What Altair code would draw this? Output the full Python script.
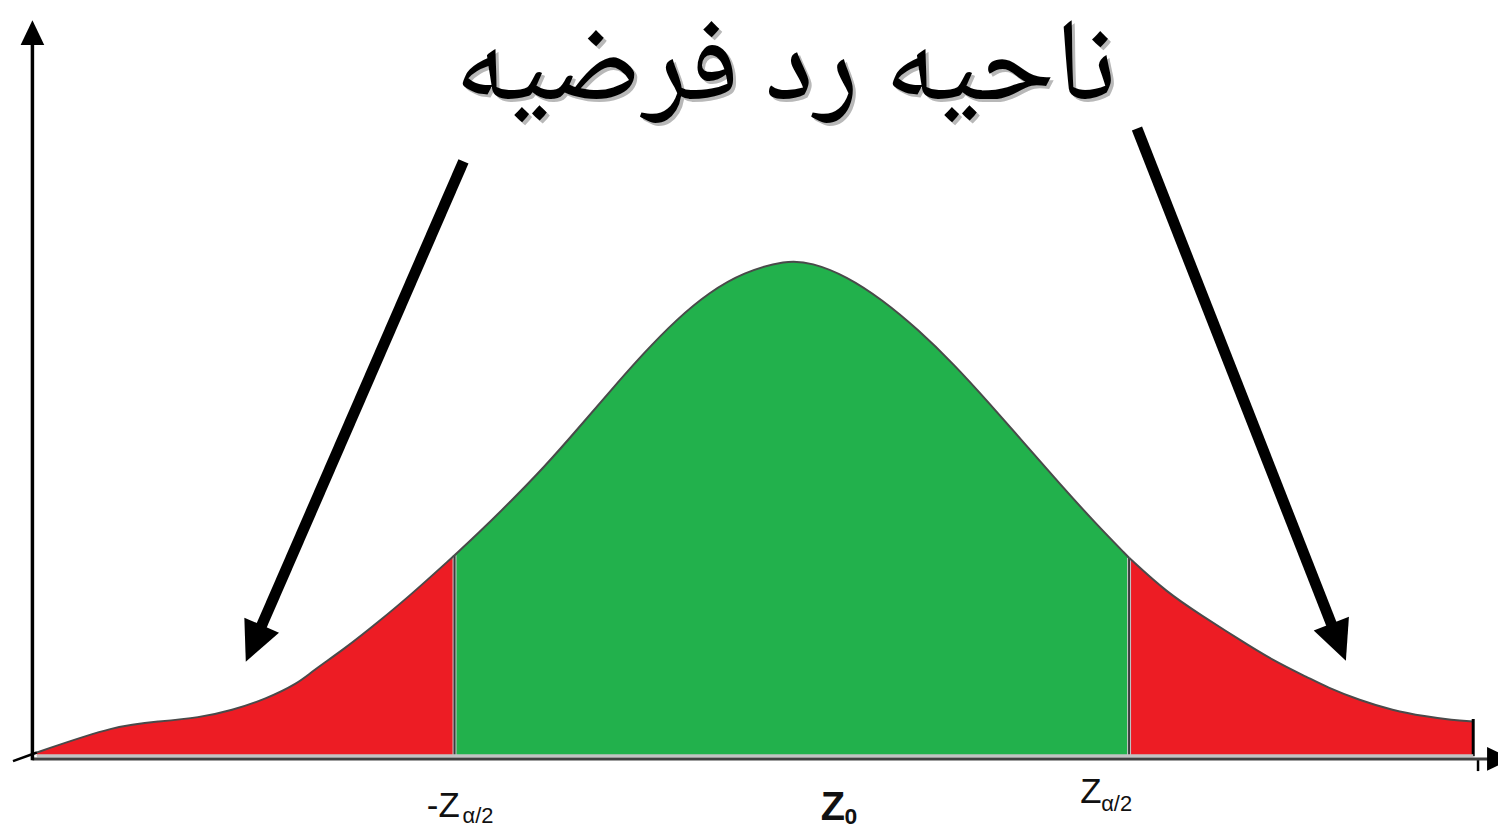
import math
import altair as alt
import pandas as pd

# ---------------- data ----------------
# bell curve: standardized position z and density height
curve_z = [-4.526, -4.387, -3.925, -3.676, -3.445, -3.254, -3.058, -2.867, -2.792, -2.595, -2.405, -2.214, -1.960,
           -1.827, -1.636, -1.439, -1.249, -1.058, -0.861, -0.671, -0.480, -0.283, -0.035, 0.116, 0.318, 0.526, 0.734,
           0.942, 1.145, 1.353, 1.561, 1.763, 1.960, 2.179, 2.387, 2.590, 2.798, 3.006, 3.104, 3.301, 3.491, 3.682,
           3.838, 3.960]
curve_d = [-0.004, 0.003, 0.025, 0.028, 0.031, 0.037, 0.046, 0.059, 0.068, 0.087, 0.108, 0.130, 0.162,
           0.179, 0.205, 0.233, 0.263, 0.294, 0.325, 0.352, 0.374, 0.390, 0.400, 0.398, 0.387, 0.368, 0.344,
           0.316, 0.285, 0.252, 0.219, 0.188, 0.160, 0.132, 0.113, 0.095, 0.077, 0.063, 0.056, 0.045, 0.037, 0.032,
           0.029, 0.028]
crit = 1.96
crit_heights = [0.162, 0.160]

# annotation arrows: start, end of shaft, tip (z, density)
arrow_start_z = [-1.908, 2.006]
arrow_start_d = [0.4796, 0.506]
arrow_end_z = [-3.092, 3.145]
arrow_end_d = [0.1018, 0.1034]
arrow_tip_z = [-3.173, 3.220]
arrow_tip_d = [0.0762, 0.0770]

# axes of the sketch
yaxis_z = -4.413
yaxis_top = 0.5758
yaxis_tip = 0.5934
xaxis_end = 4.052
xaxis_tip = 4.185
curve_end_z = 3.960

title_text = "ناحیه رد فرضیه"
label_main = ["-Z", "Z"]
label_sub = ["α/2", "α/2"]
label_center_main = "Z"
label_center_sub = "0"

# ---------------- layout (screen mapping) ----------------
W, H = 1498, 821
PX_X = 173.0     # px per z unit
PX_Y = 1247.0    # px per density unit
Z0_PX = 796.0 - 8
BASE_PX = 758.0 - 8
zmin = -Z0_PX / PX_X
zmax = zmin + W / PX_X
dmax = BASE_PX / PX_Y
dmin = dmax - H / PX_Y

xs = alt.Scale(domain=[zmin, zmax], nice=False, zero=False)
ys = alt.Scale(domain=[dmin, dmax], nice=False, zero=False)


def X(f):
    return alt.X(f, type="quantitative", scale=xs, axis=None)


def Y(f):
    return alt.Y(f, type="quantitative", scale=ys, axis=None)


def head_angle(z0, d0, z1, d1):
    dx = (z1 - z0) * PX_X
    dy = -(d1 - d0) * PX_Y
    return math.degrees(math.atan2(-dx, dy)) % 360


HEAD = "M0,0L-0.95,-2L0.95,-2Z"

# ---------------- data frames ----------------
rows = []
stub = []
for i, (z, d) in enumerate(zip(curve_z, curve_d)):
    if d < 0:
        stub.append(dict(z=z, d=d, seg="stub", o=i))
        continue
    if z <= -crit:
        rows.append(dict(z=z, d=d, seg="left", o=i))
        if len(stub) == 1:
            stub.append(dict(z=z, d=d, seg="stub", o=i))
    if -crit <= z <= crit:
        rows.append(dict(z=z, d=d, seg="mid", o=i))
    if z >= crit:
        rows.append(dict(z=z, d=d, seg="right", o=i))
area_df = pd.DataFrame(rows)
stub_df = pd.DataFrame(stub)

areas = alt.Chart(area_df).mark_area(interpolate="basis", opacity=1).encode(
    x=X("z"), y=Y("d"), y2=alt.datum(0.0),
    color=alt.Color("seg:N", scale=alt.Scale(domain=["left", "mid", "right"],
                                             range=["#ED1C24", "#22B14C", "#ED1C24"]), legend=None),
    detail="seg:N",
)

outline = alt.Chart(area_df).mark_line(interpolate="basis", color="#4a4a4a", strokeWidth=2).encode(
    x=X("z"), y=Y("d"), detail="seg:N", order="o:Q")
outline_stub = alt.Chart(stub_df).mark_line(color="black", strokeWidth=2.5).encode(
    x=X("z"), y=Y("d"), order="o:Q")

# boundary lines at critical values
bdf = pd.DataFrame(dict(z=[-crit, crit], d0=[0.0, 0.0], d1=crit_heights))
bound_light = alt.Chart(bdf).mark_rule(color="#c8c8c8", strokeWidth=4).encode(
    x=X("z"), y=Y("d0"), y2="d1")
bound_dark = alt.Chart(bdf).mark_rule(color="#3c3c3c", strokeWidth=2).encode(
    x=X("z"), y=Y("d0"), y2="d1")

# curve right end edge and small tick
edf = pd.DataFrame(dict(z=[curve_end_z, curve_end_z + 0.028], d0=[0.0, -0.002], d1=[curve_d[-1] + 0.002, -0.012],
                        w=[3, 2.5]))
edges = alt.Chart(edf).mark_rule(color="black").encode(
    x=X("z"), y=Y("d0"), y2="d1", strokeWidth=alt.StrokeWidth("w:Q", scale=None))

# x axis: light and dark lines
xdf = pd.DataFrame(dict(z0=[curve_z[1], yaxis_z], z1=[curve_end_z, xaxis_end], d=[0.0004, -0.0022],
                        c=["#c3c3c3", "#404040"]))
xaxis = alt.Chart(xdf).mark_rule(strokeWidth=3).encode(
    x=X("z0"), x2="z1", y=Y("d"), color=alt.Color("c:N", scale=None))

# y axis
ydf = pd.DataFrame(dict(z=[yaxis_z], d0=[-0.0032], d1=[yaxis_top]))
yaxis = alt.Chart(ydf).mark_rule(color="black", strokeWidth=3.5).encode(x=X("z"), y=Y("d0"), y2="d1")

# arrow shafts
adf = pd.DataFrame(dict(z0=arrow_start_z, d0=arrow_start_d, z1=arrow_end_z, d1=arrow_end_d))
shafts = alt.Chart(adf).mark_rule(color="black", strokeWidth=11, strokeCap="butt").encode(
    x=X("z0"), y=Y("d0"), x2="z1", y2="d1")

# arrow heads (tip at position)
heads = []
for i in range(2):
    heads.append(dict(z=arrow_tip_z[i], d=arrow_tip_d[i], sz=1600,
                      ang=head_angle(arrow_start_z[i], arrow_start_d[i], arrow_tip_z[i], arrow_tip_d[i])))
heads.append(dict(z=yaxis_z, d=yaxis_tip, sz=625, ang=head_angle(yaxis_z, 0.0, yaxis_z, yaxis_tip)))
heads.append(dict(z=xaxis_tip, d=-0.0022, sz=625, ang=head_angle(0.0, -0.0022, xaxis_tip, -0.0022)))
hdf = pd.DataFrame(heads)
head_marks = alt.Chart(hdf).mark_point(shape=HEAD, filled=True, color="black", opacity=1, strokeWidth=0).encode(
    x=X("z"), y=Y("d"), angle=alt.Angle("ang:Q", scale=None), size=alt.Size("sz:Q", scale=None))

# title (with soft shadow)
tdf = pd.DataFrame(dict(z=[-0.035], d=[0.530], t=[title_text]))
title_font = "Noto Naskh Arabic, Amiri, DejaVu Sans"
title_shadow = alt.Chart(tdf).mark_text(font=title_font, fontSize=118, color="#b8b8b8", align="center",
                                        baseline="alphabetic", dx=3, dy=3).encode(
    x=X("z"), y=Y("d"), text="t:N")
title = alt.Chart(tdf).mark_text(font=title_font, fontSize=118, color="black", align="center",
                                 baseline="alphabetic").encode(x=X("z"), y=Y("d"), text="t:N")

# tick labels
ldf = pd.DataFrame(dict(z=[-2.121, 1.676], d=[-0.0489, -0.0377], t=label_main))
sdf = pd.DataFrame(dict(z=[-1.913, 1.798], d=[-0.0537, -0.0441], t=label_sub))
lab_main = alt.Chart(ldf).mark_text(font="Liberation Sans", fontSize=35, color="#111", align="left",
                                    baseline="alphabetic").encode(x=X("z"), y=Y("d"), text="t:N")
lab_sub = alt.Chart(sdf).mark_text(font="Liberation Sans", fontSize=22, color="#111", align="left",
                                   baseline="alphabetic").encode(x=X("z"), y=Y("d"), text="t:N")
cdf = pd.DataFrame(dict(z=[0.168], d=[-0.0513], t=[label_center_main]))
c2df = pd.DataFrame(dict(z=[0.306], d=[-0.0548], t=[label_center_sub]))
lab_c = alt.Chart(cdf).mark_text(font="Liberation Sans", fontSize=40, fontWeight="bold", color="#111",
                                 align="left", baseline="alphabetic").encode(x=X("z"), y=Y("d"), text="t:N")
lab_c2 = alt.Chart(c2df).mark_text(font="Liberation Sans", fontSize=23, fontWeight="bold", color="#111",
                                   align="left", baseline="alphabetic").encode(x=X("z"), y=Y("d"), text="t:N")

chart = alt.layer(
    areas, bound_light, bound_dark, outline, outline_stub, edges, xaxis, yaxis, shafts, head_marks,
    title_shadow, title, lab_main, lab_sub, lab_c, lab_c2,
).properties(
    width=W, height=H, padding=0, autosize=alt.AutoSizeParams(type="none"), background="white"
).configure_view(stroke=None)

chart.save("out.html", embed_options={"renderer": "svg", "actions": False})
